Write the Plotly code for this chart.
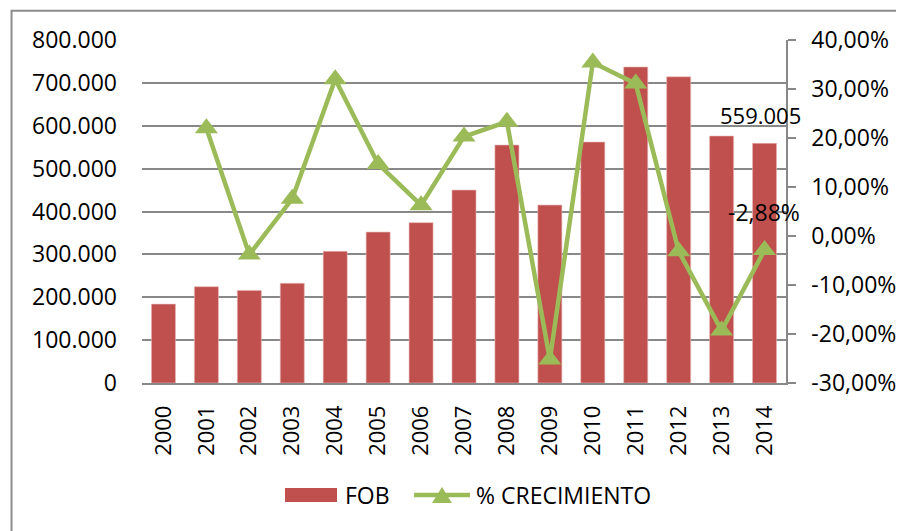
import plotly.graph_objects as go

years = [2000, 2001, 2002, 2003, 2004, 2005, 2006, 2007,
         2008, 2009, 2010, 2011, 2012, 2013, 2014]
fob = [184000, 224600, 216000, 232500, 307000, 352000, 374000, 450000,
       555000, 415000, 562000, 737000, 714000, 576000, 559005]
crecimiento = [None, 22.0, -3.8, 7.6, 32.0, 14.7, 6.3, 20.3,
               23.3, -25.2, 35.4, 31.1, -3.1, -19.3, -2.88]

y2_tickvals = [-30, -20, -10, 0, 10, 20, 30, 40]
y2_ticktext = ["-30,00%", "-20,00%", "-10,00%", "0,00%", "10,00%", "20,00%", "30,00%", "40,00%"]

series_names = ["FOB", "% CRECIMIENTO"]

RED = "#C0504D"
GREEN = "#9BBB59"
GRID = "#888888"
FONT = "Open Sans"

fig = go.Figure()
fig.add_trace(go.Bar(
    x=years, y=fob, name=series_names[0],
    marker=dict(color=RED, line=dict(color="#E8B8B7", width=0.6)),
    yaxis="y", showlegend=False,
))
fig.add_trace(go.Scatter(
    x=years, y=crecimiento, name=series_names[1],
    mode="lines+markers",
    line=dict(color=GREEN, width=4.5),
    marker=dict(symbol="triangle-up", size=20, color=GREEN),
    yaxis="y2", showlegend=False,
))

# data labels for the last year
fig.add_annotation(x=years[-1], y=fob[-1], xref="x", yref="y",
                   text="559.005", showarrow=False, yanchor="bottom", yshift=11,
                   xshift=-4, font=dict(family=FONT, size=22, color="black"))
fig.add_annotation(x=years[-1], y=crecimiento[-1], xref="x", yref="y2",
                   text="-2,88%", showarrow=False, yanchor="middle", yshift=38,
                   xshift=-1, font=dict(family=FONT, size=23, color="black"))

# outer chart border
fig.add_shape(type="rect", xref="paper", yref="paper",
              x0=-0.2026, x1=1.3, y0=-0.7, y1=1.0854,
              line=dict(color="#8C8C8C", width=2), fillcolor="rgba(0,0,0,0)",
              layer="below")

# legend (drawn to match the wide swatches of the original)
LY = -0.3265
fig.add_shape(type="rect", xref="paper", yref="paper",
              x0=0.222, x1=0.3028, y0=LY - 0.0205, y1=LY + 0.0205,
              line=dict(width=0), fillcolor=RED)
fig.add_annotation(x=0.3121, y=LY, xref="paper", yref="paper", text=series_names[0],
                   showarrow=False, xanchor="left", yanchor="middle",
                   font=dict(family=FONT, size=23, color="black"))
fig.add_shape(type="line", xref="paper", yref="paper",
              x0=0.4224, x1=0.5093, y0=LY, y1=LY,
              line=dict(color=GREEN, width=4.5))
tx, tw, th = 0.4658, 0.0155, 0.0233
fig.add_shape(type="path", xref="paper", yref="paper",
              path=f"M {tx - tw} {LY - th} L {tx + tw} {LY - th} L {tx} {LY + th} Z",
              line=dict(width=0), fillcolor=GREEN)
fig.add_annotation(x=0.5155, y=LY, xref="paper", yref="paper", text=series_names[1],
                   showarrow=False, xanchor="left", yanchor="middle",
                   font=dict(family=FONT, size=23, color="black"))

fig.update_layout(
    width=896, height=523,
    margin=dict(l=134, r=118, t=32, b=148, autoexpand=False),
    paper_bgcolor="white", plot_bgcolor="white",
    separators=",.",
    bargap=0.44,
    font=dict(family=FONT, size=22, color="black"),
    showlegend=False,
    xaxis=dict(range=[1999.5, 2014.5], tickmode="array", tickvals=years,
               ticktext=[str(y) for y in years], automargin=False,
               tickangle=-90, showgrid=False, showline=True, zeroline=False,
               linecolor=GRID, linewidth=1.5, ticks="", ticklabelstandoff=12,
               tickfont=dict(family=FONT, size=22, color="black")),
    yaxis=dict(range=[0, 800000], tickformat=",.0f", dtick=100000, automargin=False,
               showgrid=True, gridcolor=GRID, gridwidth=1.5,
               zeroline=False, showline=False, ticks="", ticklabelstandoff=24,
               tickfont=dict(family=FONT, size=23, color="black")),
    yaxis2=dict(range=[-30, 40], overlaying="y", side="right", automargin=False,
                tickvals=y2_tickvals, ticktext=y2_ticktext,
                showgrid=False, zeroline=False, showline=True, linecolor=GRID,
                linewidth=1.5, ticks="outside", ticklen=8, tickcolor=GRID,
                tickwidth=1.5, ticklabelstandoff=11,
                tickfont=dict(family=FONT, size=23, color="black")),
)

fig.write_html("out.html")
